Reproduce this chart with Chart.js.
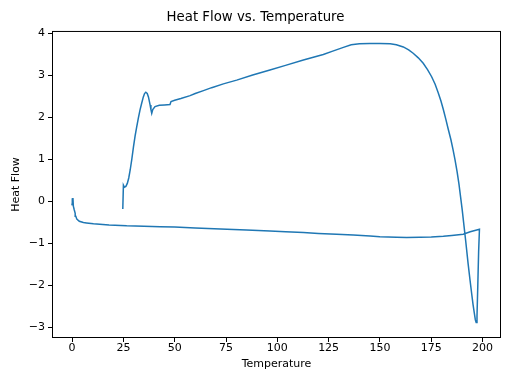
<!DOCTYPE html>
<html>
<head>
<meta charset="utf-8">
<script src="https://cdn.jsdelivr.net/npm/chart.js@4/dist/chart.umd.min.js"></script>
<style>
  html, body { margin: 0; padding: 0; background: #fff; }
  #wrap { width: 512px; height: 384px; }
</style>
</head>
<body>
<div id="wrap"><canvas id="heatChart" width="512" height="384"></canvas></div>
<script>
// heating run (25 -> ~198)
const heatingTemp = [24.7, 25.0, 25.5, 26.2, 26.9, 27.6, 28.3, 29.1, 29.9, 30.7, 31.5, 32.3, 33.1, 33.9, 34.7, 35.3,
  35.9, 36.6, 37.2, 37.7, 38.0, 38.4, 38.8, 39.3, 40.4, 42.5, 45, 47.7, 48.2, 50, 53, 57.5, 60, 64, 68, 73.7, 80.2,
  88, 96.4, 104, 112.7, 122.4, 127, 132.2, 136, 140, 145, 150, 155, 158, 161.4, 164, 166.2, 168.7, 171.1, 173.2,
  175.2, 176.9, 178.4, 179.7, 180.9, 182.1, 183.3, 184.6, 185.6, 186.6, 187.6, 188.5, 189.3, 190.1, 190.9, 191.8,
  193, 193.9, 194.7, 195.4, 196, 196.5, 196.9, 197.3, 197.7, 198.1, 198.5];
const heatingFlow = [-0.19, 0.38, 0.33, 0.35, 0.42, 0.55, 0.74, 1.0, 1.29, 1.55, 1.77, 1.98, 2.17, 2.33, 2.48, 2.56,
  2.59, 2.56, 2.48, 2.36, 2.29, 2.18, 2.09, 2.18, 2.25, 2.28, 2.29, 2.30, 2.37, 2.40, 2.44, 2.51, 2.56, 2.63, 2.70,
  2.79, 2.88, 3.0, 3.12, 3.23, 3.36, 3.49, 3.57, 3.66, 3.72, 3.745, 3.75, 3.75, 3.745, 3.72, 3.67, 3.60, 3.52, 3.41,
  3.28, 3.13, 2.96, 2.78, 2.58, 2.39, 2.18, 1.95, 1.71, 1.46, 1.23, 0.98, 0.70, 0.41, 0.10, -0.21, -0.56, -0.95,
  -1.50, -1.88, -2.2, -2.47, -2.67, -2.83, -2.89, -2.75, -2.0, -1.2, -0.67];

// cooling run (~198 -> 0)
const coolingTemp = [194, 190.6, 185, 180.9, 175, 169.5, 163, 158.1, 150, 145.2, 137, 128.9, 120, 112.7, 104, 96.4,
  85, 75.4, 60, 50, 42.9, 35, 26.6, 18, 10.4, 7, 5.5, 3.5, 2.3, 1.8, 1.5, 1.0, 0.6, 0.4, 0.1, -0.1];
const coolingFlow = [-0.73, -0.79, -0.82, -0.84, -0.855, -0.86, -0.865, -0.86, -0.85, -0.83, -0.81, -0.79, -0.77,
  -0.75, -0.73, -0.71, -0.69, -0.67, -0.64, -0.62, -0.61, -0.60, -0.59, -0.57, -0.54, -0.52, -0.51, -0.48, -0.43,
  -0.36, -0.29, -0.2, -0.12, 0.07, -0.04, -0.1];

const xTicks = [0, 25, 50, 75, 100, 125, 150, 175, 200];
const yTicks = [-3, -2, -1, 0, 1, 2, 3, 4];

const points = heatingTemp.map((t, i) => ({ x: t, y: heatingFlow[i] }))
  .concat(coolingTemp.map((t, i) => ({ x: t, y: coolingFlow[i] })));

const font = { family: 'DejaVu Sans', size: 11 };

// matplotlib style box round the plot
const frame = {
  id: 'frame',
  afterDraw(chart) {
    const a = chart.chartArea, c = chart.ctx;
    c.save();
    c.strokeStyle = '#000';
    c.lineWidth = 1;
    c.strokeRect(a.left + 0.5, a.top + 0.5, a.right - a.left - 1, a.bottom - a.top - 1);
    c.restore();
  }
};

new Chart(document.getElementById('heatChart').getContext('2d'), {
  type: 'scatter',
  data: {
    datasets: [{
      data: points,
      showLine: true,
      borderColor: '#1f77b4',
      borderWidth: 1.5,
      pointRadius: 0,
      tension: 0,
      fill: false
    }]
  },
  options: {
    responsive: false,
    animation: false,
    layout: { padding: { left: 10, right: 11, top: 0, bottom: 13 } },
    plugins: {
      legend: { display: false },
      tooltip: { enabled: false },
      title: {
        display: true,
        text: 'Heat Flow vs. Temperature',
        color: '#000',
        font: { family: 'DejaVu Sans', size: 13.3, weight: 'normal' },
        padding: { top: 10, bottom: 5 }
      }
    },
    scales: {
      x: {
        type: 'linear',
        min: -9.8,
        max: 209,
        afterBuildTicks: s => { s.ticks = xTicks.map(v => ({ value: v })); },
        afterFit: s => { s.height = 33; },
        grid: { display: true, drawOnChartArea: false, drawTicks: true, tickLength: 4, color: '#000' },
        border: { display: false },
        ticks: { color: '#000', font: font, padding: 0, maxRotation: 0 },
        title: { display: true, text: 'Temperature', color: '#000', font: font, padding: { top: 0, bottom: 0 } }
      },
      y: {
        type: 'linear',
        min: -3.26,
        max: 4.05,
        afterBuildTicks: s => { s.ticks = yTicks.map(v => ({ value: v })); },
        afterFit: s => { s.width = 42; },
        grid: { display: true, drawOnChartArea: false, drawTicks: true, tickLength: 4, color: '#000' },
        border: { display: false },
        ticks: { color: '#000', font: font, padding: 3, callback: v => String(v).replace('-', '\u2212') },
        title: { display: true, text: 'Heat Flow', color: '#000', font: font, padding: { top: 0, bottom: 0 } }
      }
    }
  },
  plugins: [frame]
});
</script>
</body>
</html>
